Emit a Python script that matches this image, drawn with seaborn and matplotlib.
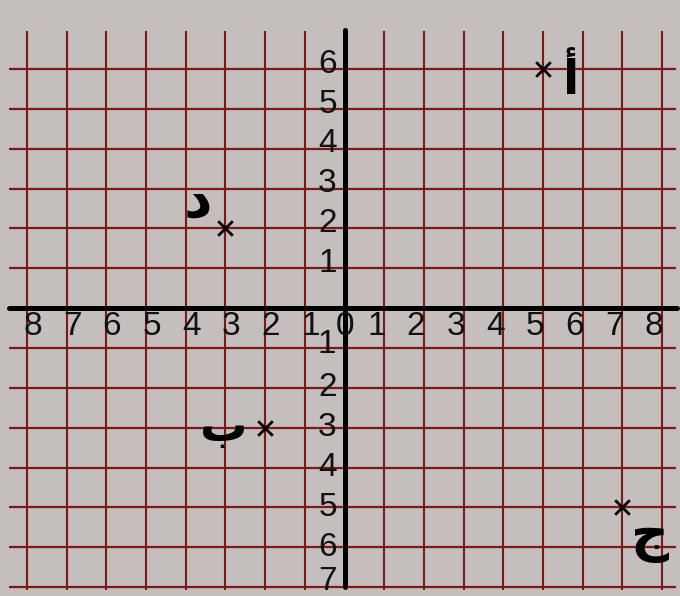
import matplotlib
matplotlib.use("Agg")
import matplotlib.pyplot as plt
import seaborn as sns
import pandas as pd
import numpy as np

# ---- data ----
point_x = [5, -3, -2, 7]
point_y = [6, 2, -3, -5]
point_names = ["أ", "د", "ب", "ج"]

x_ticks = [-8, -7, -6, -5, -4, -3, -2, -1, 0, 1, 2, 3, 4, 5, 6, 7, 8]
x_tick_labels = ["8", "7", "6", "5", "4", "3", "2", "1", "0", "1", "2", "3", "4", "5", "6", "7", "8"]
y_ticks = [6, 5, 4, 3, 2, 1, -1, -2, -3, -4, -5, -6, -7]
y_tick_labels = ["6", "5", "4", "3", "2", "1", "1", "2", "3", "4", "5", "6", "7"]

# ---- layout (positions / sizes of letter labels) ----
name_pos = {"أ": (5.68, 5.72), "د": (-3.69, 2.69), "ب": (-3.04, -3.01), "ج": (7.7, -5.75)}
name_size = {"أ": 34, "د": 40, "ب": 34, "ج": 38}

BG = "#c4bebd"
GRID = "#7b1a17"

sns.set_theme(style="white")
plt.rcParams["font.family"] = ["Liberation Sans", "DejaVu Sans"]

fig = plt.figure(figsize=(6.8, 5.96), dpi=100, facecolor=BG)
ax = fig.add_axes([0, 0, 1, 1])
ax.set_facecolor(BG)

# grid
ax.vlines([t for t in x_ticks if t != 0], -7.08, 6.95, colors=GRID, linewidth=1.5, zorder=1)
ax.hlines([t for t in range(-7, 7) if t != 0], -8.45, 8.35, colors=GRID, linewidth=1.6, zorder=1)

# axes
ax.plot([-8.45, 8.38], [0, 0], color="black", linewidth=3.6, solid_capstyle="round", zorder=3)
ax.plot([0, 0], [-7.0, 6.98], color="black", linewidth=3.6, solid_capstyle="round", zorder=3)

# tick labels
for t, lab in zip(x_ticks, x_tick_labels):
    if t < 0:
        xp = t + 0.14
    elif t > 0:
        xp = t - 0.2
    else:
        xp = 0.0
    ax.text(xp, -0.45, lab, ha="center", va="center", fontsize=24, color="#111111", zorder=4)

for t, lab in zip(y_ticks, y_tick_labels):
    yp = t + 0.12 if t > 0 else t
    xp = -0.43 if t != -1 else -0.45
    if t == -1:
        yp = -0.9
    if t == -7:
        yp = -6.86
    ax.text(xp, yp, lab, ha="center", va="center", fontsize=24, color="#111111", zorder=4)

# points
df = pd.DataFrame({"x": point_x, "y": point_y, "name": point_names})
sns.scatterplot(data=df, x="x", y="y", marker="x", s=110, color="black",
                linewidth=2.0, ax=ax, zorder=5, legend=False)
ax.set_xlim(-8.68, 8.45)
ax.set_ylim(-7.22, 7.73)
ax.axis("off")

for n in point_names:
    px, py = name_pos[n]
    ax.text(px, py, n, ha="center", va="center", fontsize=name_size[n], fontweight="bold",
            family=["DejaVu Sans"], color="black", zorder=5)

fig.savefig("out.png", dpi=100, facecolor=BG)
